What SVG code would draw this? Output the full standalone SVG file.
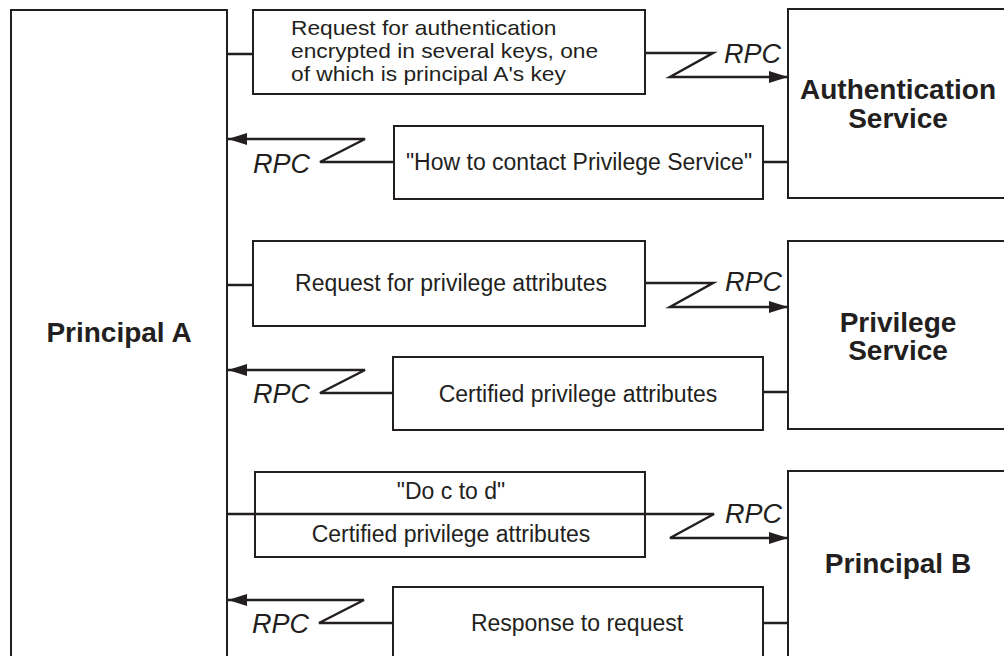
<svg xmlns="http://www.w3.org/2000/svg" width="1004" height="656" viewBox="0 0 1004 656">
<defs>
<style>
.box{fill:#fff;stroke:#231f20;stroke-width:2}
.ln{fill:none;stroke:#231f20;stroke-width:2.5;stroke-linejoin:miter}
.t{font-family:"Liberation Sans",Arial,sans-serif;font-size:23px;fill:#231f20}
.ts{font-family:"Liberation Sans",Arial,sans-serif;font-size:20.5px;fill:#231f20}
.tm{text-anchor:middle}
.b{font-family:"Liberation Sans",Arial,sans-serif;font-size:28px;font-weight:bold;fill:#231f20;text-anchor:middle}
.rpc{font-family:"Liberation Sans",Arial,sans-serif;font-size:27px;font-style:italic;fill:#231f20}
</style>
<marker id="ah" markerUnits="userSpaceOnUse" markerWidth="20" markerHeight="14" refX="19" refY="7" orient="auto">
<path d="M0,1 L19,7 L0,13 Z" fill="#231f20"/>
</marker>
</defs>
<rect width="1004" height="656" fill="#fff"/>

<g id="principal-a">
<rect class="box" x="11" y="10" width="216" height="660"/>
<text class="b" x="119" y="342">Principal A</text>
</g>

<g id="authentication-service">
<rect class="box" x="788" y="9" width="230" height="189"/>
<text class="b" x="898" y="99">Authentication</text>
<text class="b" x="898" y="128">Service</text>
</g>

<g id="privilege-service">
<rect class="box" x="788" y="241" width="230" height="188"/>
<text class="b" x="898" y="332">Privilege</text>
<text class="b" x="898" y="360">Service</text>
</g>

<g id="principal-b">
<rect class="box" x="788" y="471" width="230" height="200"/>
<text class="b" x="898" y="573">Principal B</text>
</g>

<g id="msg-auth-request">
<rect class="box" x="253" y="10" width="392" height="84"/>
<g transform="translate(291,0) scale(1.11,1)">
<text class="ts" x="0" y="35">Request for authentication</text>
<text class="ts" x="0" y="58">encrypted in several keys, one</text>
<text class="ts" x="0" y="81">of which is principal A's key</text>
</g>
</g>

<g id="msg-how-to-contact">
<rect class="box" x="394" y="126" width="369" height="73"/>
<text class="t tm" x="579" y="170">"How to contact Privilege Service"</text>
</g>

<g id="msg-priv-request">
<rect class="box" x="253" y="241" width="392" height="85"/>
<text class="t tm" x="451" y="291">Request for privilege attributes</text>
</g>

<g id="msg-certified">
<rect class="box" x="393" y="357" width="370" height="73"/>
<text class="t tm" x="578" y="402">Certified privilege attributes</text>
</g>

<g id="msg-do-c-to-d">
<rect class="box" x="255" y="472" width="390" height="85"/>
<text class="t tm" x="451" y="499">"Do c to d"</text>
<text class="t tm" x="451" y="542">Certified privilege attributes</text>
</g>

<g id="msg-response">
<rect class="box" x="393" y="587" width="370" height="90"/>
<text class="t tm" x="577" y="631">Response to request</text>
</g>

<g id="connectors">
<line class="ln" x1="227" y1="54" x2="253" y2="54"/>
<path class="ln" d="M645,53 L713,53 L670,77 L788,77" marker-end="url(#ah)"/>
<line class="ln" x1="763" y1="162" x2="788" y2="162"/>
<path class="ln" d="M394,162 L320,162 L365,139 L228,139" marker-end="url(#ah)"/>
<line class="ln" x1="227" y1="285" x2="253" y2="285"/>
<path class="ln" d="M645,283 L713,283 L670,307 L788,307" marker-end="url(#ah)"/>
<line class="ln" x1="763" y1="392" x2="788" y2="392"/>
<path class="ln" d="M393,393 L320,393 L365,370 L228,370" marker-end="url(#ah)"/>
<path class="ln" d="M227,514 L714,514 L670,538 L788,538" marker-end="url(#ah)"/>
<line class="ln" x1="763" y1="623" x2="788" y2="623"/>
<path class="ln" d="M393,623 L319,623 L364,600 L228,600" marker-end="url(#ah)"/>
</g>

<g id="rpc-labels">
<text class="rpc" x="724" y="63">RPC</text>
<text class="rpc" x="253" y="173">RPC</text>
<text class="rpc" x="725" y="291">RPC</text>
<text class="rpc" x="253" y="403">RPC</text>
<text class="rpc" x="725" y="523">RPC</text>
<text class="rpc" x="252" y="633">RPC</text>
</g>
</svg>
